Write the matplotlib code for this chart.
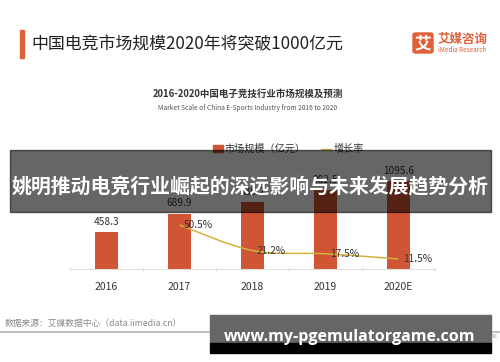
import matplotlib
matplotlib.use('Agg')
import matplotlib.pyplot as plt
import matplotlib.patches as patches
from matplotlib.path import Path
from matplotlib.lines import Line2D

plt.rcParams['font.family'] = ['Noto Sans CJK SC', 'DejaVu Sans']

years = ['2016', '2017', '2018', '2019', '2020E']
market = [458.3, 689.9, 836.2, 982.5, 1095.6]
growth_years = [1, 2, 3, 4]
growth = [50.5, 21.2, 17.5, 11.5]

W, H = 500, 362
BAR_C = '#cf5535'
LINE_C = '#d4b23c'
ORANGE = '#e0603a'


def fx(px):
    return px / W


def fy(py):
    return 1 - py / H


fig = plt.figure(figsize=(5, 3.62), dpi=100)
fig.patch.set_facecolor('white')

# header
fig.patches.append(patches.Rectangle((fx(19.5), fy(58)), 4 / W, 28 / H,
                                     transform=fig.transFigure, color=ORANGE, zorder=2))
fig.text(fx(31), fy(44), '中国电竞市场规模2020年将突破1000亿元', fontsize=12.2,
         color='#222222', va='center', ha='left', weight='medium')

# logo
fig.patches.append(patches.FancyBboxPatch((fx(413), fy(53)), 20 / W, 20 / H,
                                          boxstyle='round,pad=0,rounding_size=0.005',
                                          transform=fig.transFigure, color=ORANGE))
fig.text(fx(423), fy(43.5), '艾', fontsize=12, color='white', weight='bold', ha='center', va='center')
fig.text(fx(438), fy(39), '艾媒咨询', fontsize=9, color=ORANGE, weight='bold', ha='left', va='center')
fig.text(fx(438.5), fy(50.5), 'iMedia Research', fontsize=4.6, color=ORANGE, ha='left', va='center')

# chart titles
fig.text(fx(248), fy(94), '2016-2020中国电子竞技行业市场规模及预测', fontsize=6.8,
         color='#333333', weight='bold', ha='center', va='center')
fig.text(fx(248), fy(108), 'Market Scale of China E-Sports Industry from 2016 to 2020',
         fontsize=4.8, color='#555555', ha='center', va='center')

# main axes
ax = fig.add_axes([fx(70), 93 / H, 365 / W, 104 / H])
x = list(range(len(years)))
ax.bar(x, market, width=0.315, color=BAR_C, zorder=2)
ax.set_xlim(-0.5, 4.5)
ax.set_ylim(0, 1300)
for xi, v in zip(x, market):
    ax.annotate(f'{v:.1f}', (xi, v), xytext=(0, 4), textcoords='offset points',
                ha='center', va='bottom', fontsize=7.3, color='#333333')
ax.set_xticks(x)
ax.set_xticklabels(years, fontsize=7.5, color='#333333')
ax.set_xticks([i - 0.5 for i in range(len(years) + 1)], minor=True)
ax.tick_params(axis='x', which='major', length=0, pad=9)
ax.tick_params(axis='x', which='minor', length=3, color='#dddddd', direction='inout')
ax.set_yticks([])
for s in ['top', 'right', 'left']:
    ax.spines[s].set_visible(False)
ax.spines['bottom'].set_color('#dddddd')
ax.patch.set_alpha(0)

# growth line on secondary axis, smooth bezier through the points
ax2 = ax.twinx()
ax2.set_ylim(0, 119.3)
ax2.axis('off')
pts = list(zip(growth_years, growth))
verts = [pts[0]]
codes = [Path.MOVETO]
for i in range(len(pts) - 1):
    p0 = pts[i - 1] if i > 0 else pts[i]
    p1, p2 = pts[i], pts[i + 1]
    p3 = pts[i + 2] if i + 2 < len(pts) else pts[i + 1]
    c1 = (p1[0] + (p2[0] - p0[0]) / 6, p1[1] + (p2[1] - p0[1]) / 6)
    c2 = (p2[0] - (p3[0] - p1[0]) / 6, p2[1] - (p3[1] - p1[1]) / 6)
    verts += [c1, c2, p2]
    codes += [Path.CURVE4] * 3
ax2.add_patch(patches.PathPatch(Path(verts, codes), fill=False, edgecolor=LINE_C, lw=1.1, zorder=3))
for xi, v in zip(growth_years, growth):
    ax2.annotate(f'{v}%', (xi, v), xytext=(3, 0), textcoords='offset points',
                 ha='left', va='center', fontsize=7.3, color='#333333')

# legend
handles = [patches.Patch(color=BAR_C), Line2D([], [], color=LINE_C, lw=1.0)]
fig.legend(handles, ['市场规模（亿元）', '增长率'], loc='center', ncol=2,
           bbox_to_anchor=(fx(288), fy(149)), frameon=False, fontsize=7.3,
           handlelength=1.0, handleheight=0.6, handletextpad=0.2, columnspacing=1.5,
           labelcolor='#333333')

# footer
fig.text(fx(5), fy(323), '数据来源：艾媒数据中心（data.iimedia.cn）', fontsize=6.3,
         color='#888888', ha='left', va='center')
fig.add_artist(Line2D([0, 1], [fy(332), fy(332)], transform=fig.transFigure,
                      color='#b5b5b5', lw=1.2))
fig.text(fx(497), fy(336), 'Copyright © iiMedia Research Inc', fontsize=4.6,
         color='#999999', ha='right', va='center')

# overlay banner
fig.patches.append(patches.Rectangle((fx(10), fy(212)), 481 / W, 62 / H,
                                     transform=fig.transFigure, color='black', alpha=0.6, zorder=10))
fig.text(fx(250), fy(186), '姚明推动电竞行业崛起的深远影响与未来发展趋势分析', fontsize=14.3,
         color='white', weight='bold', ha='center', va='center', zorder=11)

# watermark box
fig.patches.append(patches.Rectangle((fx(210), fy(343)), 281 / W, 28 / H,
                                     transform=fig.transFigure, color='#666666', zorder=10))
fig.patches.append(patches.Rectangle((fx(210), fy(353)), 281 / W, 10 / H,
                                     transform=fig.transFigure, color='black', zorder=10))
fig.text(fx(350), fy(337), 'www.my-pgemulatorgame.com', fontsize=11.5, color='white',
         family=['Open Sans', 'DejaVu Sans'], weight='bold', ha='center', va='center', zorder=11)

fig.savefig('out.png', dpi=100)
